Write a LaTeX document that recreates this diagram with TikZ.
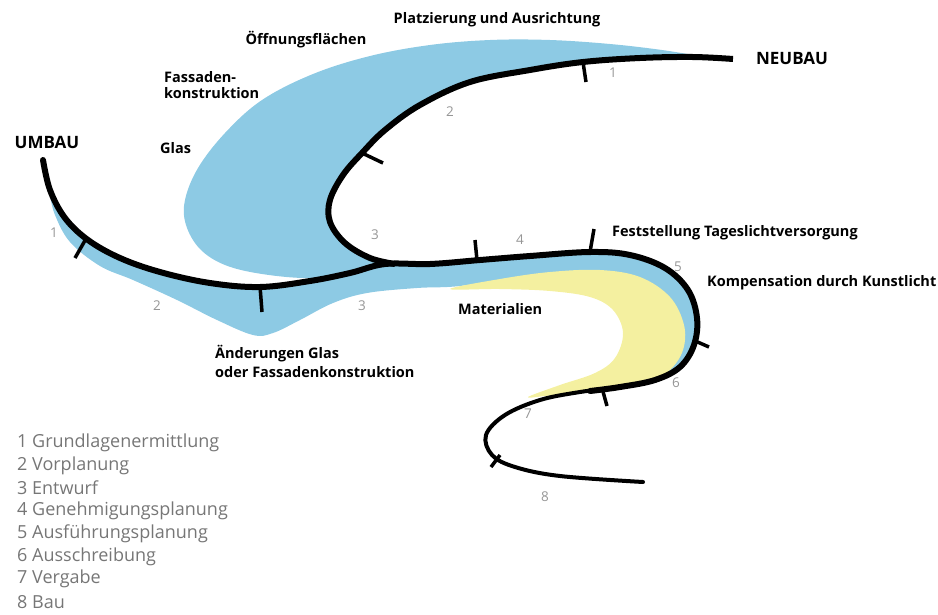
\documentclass[tikz,border=0pt]{standalone}
\usepackage{fontspec}
\setmainfont{Open Sans}
\definecolor{blu}{RGB}{141,202,228}
\definecolor{yel}{RGB}{244,240,160}
\definecolor{leg}{RGB}{118,118,118}
\definecolor{num}{RGB}{150,150,150}
\begin{document}
\begin{tikzpicture}[x=1pt,y=-1pt,
  lbl/.style={font=\bfseries\fontsize{14.5}{16}\selectfont, inner sep=0pt, anchor=west},
  big/.style={font=\bfseries\fontsize{17}{19}\selectfont, inner sep=0pt},
  nr/.style={font=\fontsize{13.5}{15}\selectfont, text=num, inner sep=0pt},
  legend/.style={font=\fontsize{18}{20}\selectfont, text=leg, inner sep=0pt, anchor=west},
  curve/.style={line width=6pt, line cap=round, line join=round},
  tick/.style={line width=3.5pt}]
\useasboundingbox (0,0) rectangle (938,614);
% blue area upper
\fill[blu] plot[smooth, tension=0.6] coordinates {(705,57) (662,50) (610,44) (550,40) (490,40) (430,45) (370,56) (313,74) (262,100) (225,133) (198,168) (185,200) (186,225) (200,249) (225,265) (262,274) (310,278) (350,272) (385,264) (370,258) (345,243) (330,222) (330,200) (343,175) (362,153) (385,130) (420,105) (470,82) (530,70) (583,62) (640,58) (693,57) (705,57)};
% blue band lower
\fill[blu] plot[smooth, tension=0.6] coordinates {(50,195) (65,218) (88,240) (120,258) (160,272) (210,283) (260,287) (310,281) (350,273) (385,264) (430,264) (480,260) (530,256) (590,252) (630,255) (665,268) (688,290) (697,318) (694,345) (680,367) (662,372) (670,345) (672,312) (648,285) (600,276) (530,276) (460,286) (417,288) (367,293) (333,303) (300,320) (273,333) (253,335) (217,320) (177,300) (133,280) (100,266) (70,242) (55,215) (50,195)};
% yellow
\fill[yel] plot[smooth cycle, tension=0.6] coordinates {(450,289) (500,279) (550,272) (600,270) (640,277) (670,297) (684,325) (683,350) (670,370) (650,382) (620,388) (580,392) (545,396) (528,397) (560,385) (595,373) (615,358) (623,333) (613,310) (590,297) (550,291) (500,289)};
% main curve (UMBAU)
\draw[curve, line width=4pt] plot[smooth, tension=0.6] coordinates {(43,160) (50,190) (65,218) (88,240) (120,258) (160,272) (210,283) (260,287) (310,281) (350,273) (385,264) (430,264) (480,260) (530,256) (590,252) (630,255) (665,268) (688,290) (697,318) (694,345) (680,367) (655,380) (620,387) (580,392) (540,400) (505,415) (486,435) (492,455) (515,467) (560,476) (643,482)};
\draw[curve] plot[smooth, tension=0.6] coordinates {(43,160) (50,190) (65,218) (88,240) (120,258) (160,272) (210,283) (260,287) (310,281) (350,273) (385,264) (430,264) (480,260) (530,256) (590,252) (630,255) (665,268) (688,290) (697,318) (694,345) (680,367) (655,380) (620,387) (590,391)};
% NEUBAU curve
\draw[curve, line cap=butt] plot[smooth, tension=0.6] coordinates {(733,59) (693,57) (640,58) (583,62) (530,70) (470,82) (420,105) (385,130) (362,153) (343,175) (330,200) (330,222) (345,243) (370,258) (395,264)};
% ticks
\draw[tick] (583,62) -- (586,82);
\draw[tick] (362,153) -- (383,163);
\draw[tick] (87,237) -- (75,258);
\draw[tick] (260,286) -- (262,312);
\draw[tick] (477,260) -- (475,240);
\draw[tick] (590,252) -- (594,229);
\draw[tick] (693,340) -- (709,347);
\draw[tick] (602,388) -- (607,406);
\draw[tick] (500,455) -- (491,467);
% numbers
\node[nr] (n1a) at (613,73) {1};
\node[nr] (n2a) at (450,112) {2};
\node[nr] (n3a) at (375,235) {3};
\node[nr] (n4) at (520,240) {4};
\node[nr] (n5) at (678,267) {5};
\node[nr] (n6) at (676,383) {6};
\node[nr] (n7) at (528,414) {7};
\node[nr] (n8) at (545,497) {8};
\node[nr] (n1b) at (54,233) {1};
\node[nr] (n2b) at (157,306) {2};
\node[nr] (n3b) at (362,306) {3};
% labels
\node[big] (umbau) at (47,142) {UMBAU};
\node[big] (neubau) at (792,58) {NEUBAU};
\node[lbl, anchor=center] (platz) at (497,20) {Platzierung und Ausrichtung};
\node[lbl, anchor=center] (oeff) at (306,40) {Öffnungsflächen};
\node[lbl] (fass1) at (164,77) {Fassaden-};
\node[lbl] (fass2) at (164,93) {konstruktion};
\node[lbl] (glas) at (160,148) {Glas};
\node[lbl] (fest) at (612,233) {Feststellung Tageslichtversorgung};
\node[lbl] (komp) at (707,283) {Kompensation durch Kunstlicht};
\node[lbl] (mat) at (458,309) {Materialien};
\node[lbl] (aend1) at (215,354) {Änderungen Glas};
\node[lbl] (aend2) at (215,372) {oder Fassadenkonstruktion};
% legend
\node[legend] (l1) at (17,443) {1 Grundlagenermittlung};
\node[legend] (l2) at (17,466) {2 Vorplanung};
\node[legend] (l3) at (17,488) {3 Entwurf};
\node[legend] (l4) at (17,511) {4 Genehmigungsplanung};
\node[legend] (l5) at (17,534) {5 Ausführungsplanung};
\node[legend] (l6) at (17,557) {6 Ausschreibung};
\node[legend] (l7) at (17,579) {7 Vergabe};
\node[legend] (l8) at (17,602) {8 Bau};
\end{tikzpicture}
\end{document}
